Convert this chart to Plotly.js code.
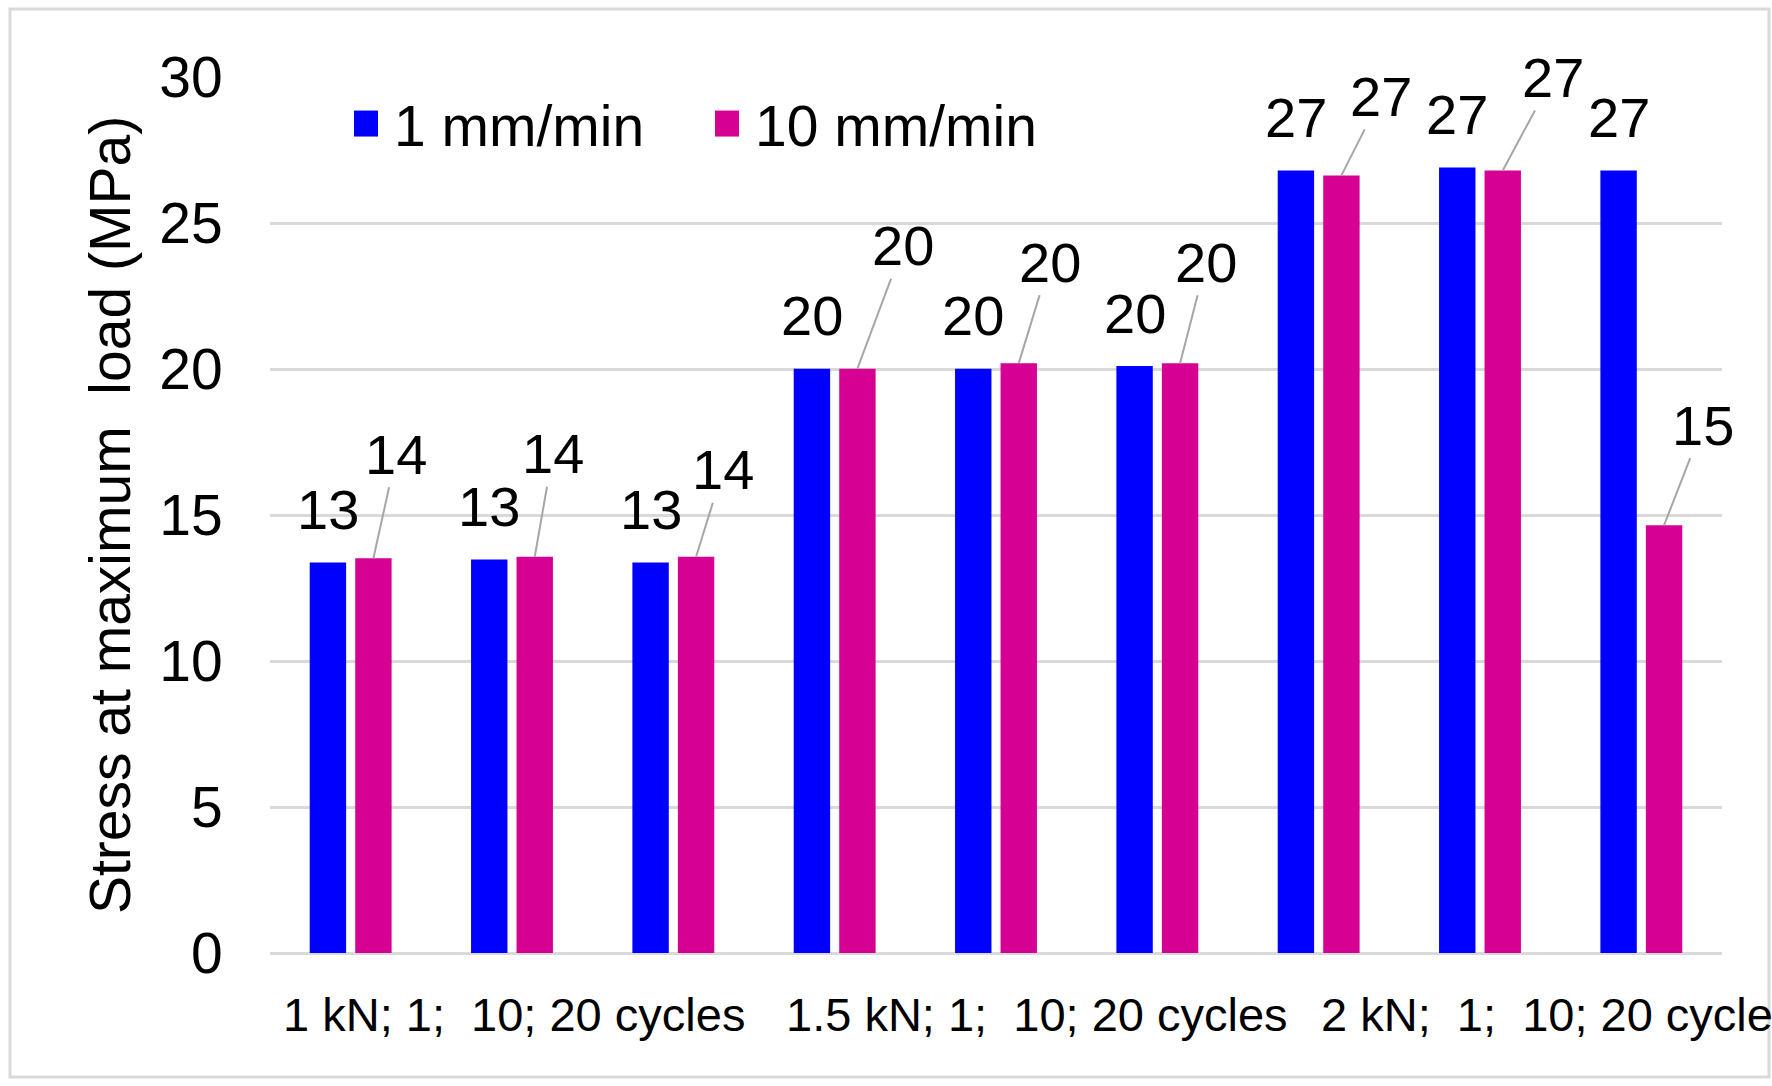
<!DOCTYPE html>
<html>
<head>
<meta charset="utf-8">
<script src="https://cdn.plot.ly/plotly-3.0.1.min.js"></script>
<style>
  body { margin: 0; background: #fff; }
  #chart { width: 1772px; height: 1086px; }
</style>
</head>
<body>
<div id="chart"></div>
<script>
// stress at maximum load (MPa)
const series = ['1 mm/min', '10 mm/min']
const slow = [13.37, 13.48, 13.37, 20.01, 20.01, 20.1, 26.8, 26.9, 26.8]
const fast = [13.52, 13.57, 13.57, 20.01, 20.2, 20.2, 26.63, 26.8, 14.65]
const groupLabels = [
  '1 kN; 1;\u00a0 10; 20 cycles',
  '1.5 kN; 1;\u00a0 10; 20 cycles',
  '2 kN;\u00a0 1;\u00a0 10; 20 cycles'
]
const colors = ['#0000ff', '#d60093']

// where the hand-placed labels sit (px offsets from bar top, data-x for group text)
const fastLabelShift = [[23, -104], [18, -103], [27, -87], [46, -123], [31, -101], [26, -101], [40, -79], [50, -93], [39, -100]]
const groupLabelX = [-0.432, 2.686, 6.0]

const W = 1772, H = 1086
const margin = { l: 270, r: 50, t: 77, b: 133 }
const plotW = W - margin.l - margin.r
const plotH = H - margin.t - margin.b
const bargap = 0.436
const half = (1 - bargap) / 4 // bar centre offset from category centre
const font = 'Liberation Sans, Arial, sans-serif'

const x = slow.map((_, i) => i)
const traces = [slow, fast].map((y, k) => ({
  type: 'bar',
  x: x,
  y: y,
  name: series[k],
  legend: k ? 'legend2' : 'legend',
  marker: { color: colors[k] },
  hoverinfo: 'y'
}))

const annotations = []
slow.forEach((v, i) => {
  annotations.push({
    x: i - half, y: v, text: String(Math.round(v)),
    showarrow: false, yshift: 53, yanchor: 'middle',
    font: { family: font, size: 56, color: '#000' }
  })
})
fast.forEach((v, i) => {
  annotations.push({
    x: i + half, y: v, text: String(Math.round(v)),
    showarrow: true, arrowhead: 0, arrowwidth: 2, arrowcolor: '#a6a6a6', standoff: 0,
    ax: fastLabelShift[i][0], ay: fastLabelShift[i][1],
    font: { family: font, size: 56, color: '#000' }
  })
})
groupLabels.forEach((t, g) => {
  annotations.push({
    xref: 'x', x: groupLabelX[g], xanchor: 'left',
    yref: 'paper', y: -61 / plotH, yanchor: 'middle',
    text: t, showarrow: false,
    font: { family: font, size: 47, color: '#000' }
  })
})

const legendBase = {
  orientation: 'h', yanchor: 'middle', xanchor: 'left', y: (953 - 124) / plotH,
  font: { family: font, size: 57, color: '#000' }, bgcolor: 'rgba(0,0,0,0)'
}

const layout = {
  width: W,
  height: H,
  margin: margin,
  paper_bgcolor: '#fff',
  plot_bgcolor: '#fff',
  font: { family: font, size: 57, color: '#000' },
  barmode: 'group',
  bargap: bargap,
  bargroupgap: 0.2,
  showlegend: true,
  legend: Object.assign({}, legendBase, { x: (354 - margin.l) / plotW }),
  legend2: Object.assign({}, legendBase, { x: (715 - margin.l) / plotW }),
  xaxis: {
    range: [-0.5, 8.5],
    showgrid: false,
    zeroline: false,
    showticklabels: false,
    ticks: ''
  },
  yaxis: {
    range: [0, 30],
    dtick: 5,
    showgrid: true,
    gridcolor: '#d9d9d9',
    gridwidth: 3,
    zeroline: true,
    zerolinecolor: '#d9d9d9',
    zerolinewidth: 3,
    ticks: 'outside',
    ticklen: 35,
    tickcolor: 'rgba(0,0,0,0)',
    tickfont: { family: font, size: 57, color: '#000' },
    title: { text: 'Stress at maximum\u00a0 load (MPa)', font: { family: font, size: 57, color: '#000' }, standoff: 10 }
  },
  annotations: annotations,
  shapes: [{
    type: 'rect', xref: 'paper', yref: 'paper', layer: 'below',
    x0: (10 - margin.l) / plotW, x1: (1769 - margin.l) / plotW,
    y0: (H - margin.b - 1077) / plotH, y1: (H - margin.b - 9) / plotH,
    line: { color: '#d9d9d9', width: 3 }
  }]
}

Plotly.newPlot('chart', traces, layout, { displayModeBar: false, staticPlot: true }).then(() => {
  // Excel-size legend squares, set a little left of the text
  document.querySelectorAll('.legendpoints path').forEach(p => p.setAttribute('d', 'M4,13H-22V-13H4Z'))
})
</script>
</body>
</html>
